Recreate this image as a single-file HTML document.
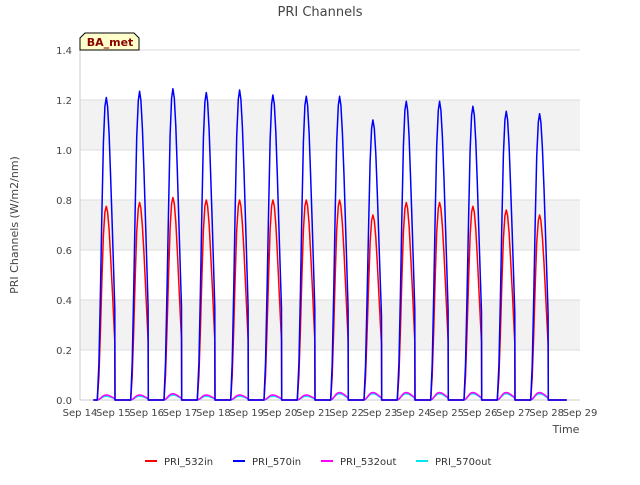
<!DOCTYPE html>
<html><head><meta charset="utf-8"><style>
body{margin:0;background:#fff;font-family:"Liberation Sans","DejaVu Sans",sans-serif}
svg text{font-family:"DejaVu Sans","Liberation Sans",sans-serif}
</style></head><body>
<svg id="chart" width="640" height="480" xmlns="http://www.w3.org/2000/svg">
<rect width="640" height="480" fill="#fff"/>
<text x="320" y="16" text-anchor="middle" font-size="13" fill="#444">PRI Channels</text>
<g id="plot"></g>
<text transform="translate(18,225) rotate(-90)" text-anchor="middle" font-size="11" fill="#444">PRI Channels (W/m2/nm)</text>
<text x="566" y="433" text-anchor="middle" font-size="11" fill="#444">Time</text>
<g>
<path d="M80,50 L80,38 L85,33 L134,33 L139,38 L139,50 Z" fill="#ffffcc" stroke="#000" stroke-width="1"/>
<text x="110" y="46" text-anchor="middle" font-size="11" font-weight="bold" fill="#8b0000">BA_met</text>
</g>
<g id="legend"></g>
</svg>
<script>
const dayLabels=["Sep 14","Sep 15","Sep 16","Sep 17","Sep 18","Sep 19","Sep 20","Sep 21","Sep 22","Sep 23","Sep 24","Sep 25","Sep 26","Sep 27","Sep 28","Sep 29"];
const yTicks=[0,0.2,0.4,0.6,0.8,1.0,1.2,1.4];
const peak570in=[1.21,1.235,1.245,1.23,1.24,1.22,1.215,1.215,1.12,1.195,1.195,1.175,1.155,1.145];
const peak532in=[0.775,0.79,0.81,0.80,0.80,0.80,0.80,0.80,0.74,0.79,0.79,0.775,0.76,0.74];
const peak532out=[0.02,0.02,0.025,0.02,0.02,0.02,0.02,0.03,0.03,0.03,0.03,0.03,0.03,0.03];
const peak570out=[0.015,0.015,0.02,0.015,0.015,0.015,0.015,0.025,0.025,0.025,0.025,0.025,0.025,0.025];
const profT=[0,0.08,0.16,0.24,0.32,0.40,0.47,0.54,0.62,0.70,0.78,0.86,0.92,0.93,1];
const profV=[0,0.12,0.35,0.62,0.85,0.97,1,0.97,0.88,0.74,0.58,0.42,0.3,0,0];
const X0=80,X1=580,Y0=400,Y1=50;
const x=d=>X0+(X1-X0)*d/15;
const y=v=>Y0-(Y0-Y1)*v/1.4;
const NS="http://www.w3.org/2000/svg";
const plot=document.getElementById('plot');
function mk(t,a,p){const e=document.createElementNS(NS,t);for(const k in a)e.setAttribute(k,a[k]);(p||plot).appendChild(e);return e;}
for(let i=0;i<7;i++){
  const r=mk('rect',{x:X0,y:y(yTicks[i]+0.2),width:X1-X0,height:y(yTicks[i])-y(yTicks[i]+0.2),fill:i%2?'#f2f2f2':'#fff'});
  
  
}
yTicks.forEach(v=>{
  const l=mk('line',{x1:X0,x2:X1,y1:y(v),y2:y(v),stroke:'#ddd'});
  
  
  const t=mk('text',{x:X0-8,y:y(v)+4,'text-anchor':'end','font-size':'10',fill:'#444'});
  t.textContent=v.toFixed(1);
  
  
});
dayLabels.forEach((s,i)=>{
  const t=mk('text',{x:x(i),y:Y0+16,'text-anchor':'middle','font-size':'10',fill:'#444'});
  t.textContent=s;
  
  
});
mk('line',{x1:X0,x2:X0,y1:Y1,y2:Y0,stroke:'#ccc'});
mk('line',{x1:X0,x2:X1,y1:Y0,y2:Y0,stroke:'#ccc'});
function series(peaks,color,name,w){
  let d=`M${x(0.4)},${y(0)}`;
  peaks.forEach((p,i)=>{
    const s=i+0.52,len=0.57;
    profT.forEach((t,j)=>{d+=` L${x(s+t*len).toFixed(1)},${y(p*profV[j]).toFixed(1)}`;});
  });
  d+=` L${x(14.6)},${y(0)}`;
  const e=mk('path',{d,fill:'none',stroke:color,'stroke-width':w,'stroke-linejoin':'round'});
  
  
}
series(peak570out,'#00e5ee','series-pri-570out',1.5);
series(peak532out,'#ff00ff','series-pri-532out',1.5);
series(peak532in,'#ff0000','series-pri-532in',1.5);
series(peak570in,'#0000ff','series-pri-570in',1.5);
const legNames=["PRI_532in","PRI_570in","PRI_532out","PRI_570out"];
const legColors=["#ff0000","#0000ff","#ff00ff","#00e5ee"];
const legX=[145,233,321,416];
const lg=document.getElementById('legend');
legNames.forEach((n,i)=>{
  const g=mk('g',{},lg);
  
  
  mk('line',{x1:legX[i],x2:legX[i]+12,y1:461,y2:461,stroke:legColors[i],'stroke-width':2},g);
  const t=mk('text',{x:legX[i]+19,y:465,'font-size':'10',fill:'#333'},g);
  t.textContent=n;
});
</script>
</body></html>
